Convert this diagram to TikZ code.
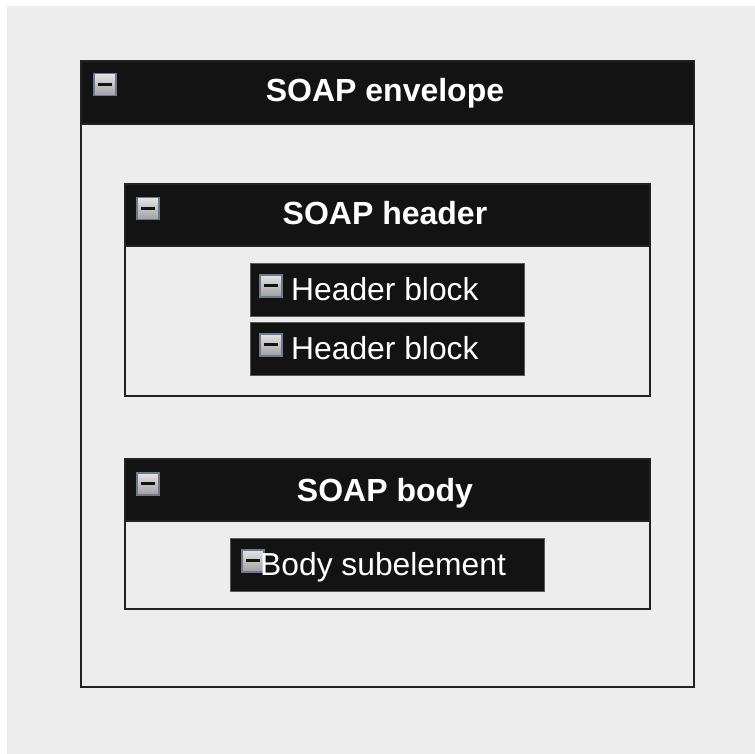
\documentclass[tikz,border=0pt]{standalone}
\usepackage{fontspec}
\setmainfont{Liberation Sans}
\usetikzlibrary{positioning}
\definecolor{pagegray}{RGB}{237,237,237}
\definecolor{bardark}{RGB}{19,19,19}
\definecolor{rimdark}{RGB}{34,34,34}
\definecolor{iconrim}{RGB}{112,120,142}
\definecolor{btntop}{RGB}{228,228,228}
\definecolor{btnbottom}{RGB}{160,160,162}

\begin{document}
\begin{tikzpicture}[x=1pt, y=-1pt]
\tikzset{
  panel/.style={draw=rimdark, line width=2pt, fill=pagegray, anchor=north west, inner sep=0pt},
  titlebar/.style={fill=bardark, draw=rimdark, line width=2pt, anchor=north west, inner sep=0pt},
  titletext/.style={text=white, inner sep=0pt, anchor=base, font=\fontsize{32}{32}\selectfont\bfseries},
  itembox/.style={fill=bardark, draw=black!65, line width=1pt, anchor=north west, inner sep=0pt, minimum height=53pt},
  itemtext/.style={text=white, inner sep=0pt, anchor=base west, font=\fontsize{31.8}{32}\selectfont},
  btnbox/.style={draw=iconrim, line width=1.5pt, top color=btntop, bottom color=btnbottom,
    anchor=north west, inner sep=0pt, minimum size=22pt},
}
% collapse button: {name}{x}{y} of the top left corner
\newcommand{\collapsebtn}[3]{%
  \node[btnbox] (#1) at (#2,#3) {};
  \fill[bardark] ([xshift=-7pt,yshift=-1.5pt]#1.center) rectangle ([xshift=7pt,yshift=1.5pt]#1.center);
}
\useasboundingbox (0,0) rectangle (755,754);
\fill[white] (0,0) rectangle (755,754);
\fill[pagegray] (7,6) rectangle (755,754);

% envelope
\node[panel, minimum width=613pt, minimum height=626pt] (env) at (80,60) {};
\node[titlebar, minimum width=613pt, minimum height=63pt] (envbar) at (80,60) {};
\node[titletext] (envtitle) at (385,102) {SOAP envelope};
\collapsebtn{envbtn}{93}{73}

% header
\node[panel, minimum width=525pt, minimum height=212pt] (hdr) at (124,183) {};
\node[titlebar, minimum width=525pt, minimum height=62pt] (hdrbar) at (124,183) {};
\node[titletext] (hdrtitle) at (385,225) {SOAP header};
\collapsebtn{hdrbtn}{136}{197}

\node[itembox, minimum width=274pt] (hb1) at (249.5,262.5) {};
\collapsebtn{hb1btn}{259}{274}
\node[itemtext] (hb1text) at (291,300) {Header block};

\node[itembox, minimum width=274pt] (hb2) at (249.5,321.5) {};
\collapsebtn{hb2btn}{259}{333}
\node[itemtext] (hb2text) at (291,359) {Header block};

% body
\node[panel, minimum width=525pt, minimum height=150pt] (bdy) at (124,458) {};
\node[titlebar, minimum width=525pt, minimum height=62pt] (bdybar) at (124,458) {};
\node[titletext] (bdytitle) at (385,501) {SOAP body};
\collapsebtn{bdybtn}{136}{472}

\node[itembox, minimum width=314pt] (sub) at (229.5,537.5) {};
\collapsebtn{subbtn}{241}{549}
\node[itemtext] (subtext) at (260,575) {Body subelement};
\end{tikzpicture}
\end{document}
